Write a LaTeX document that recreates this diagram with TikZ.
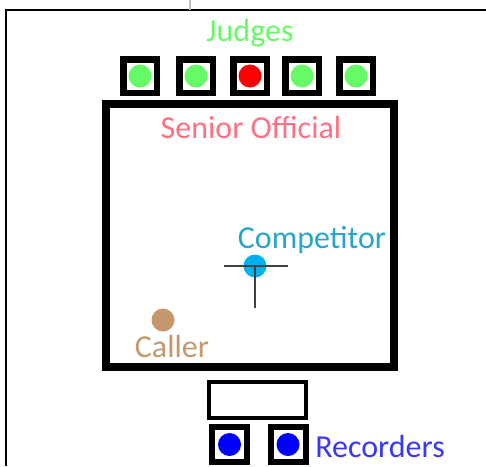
\documentclass[tikz,border=0pt]{standalone}
\usepackage{fontspec}
\setmainfont{Carlito}
\usetikzlibrary{positioning}

\definecolor{judgegreen}{RGB}{102,250,102}
\definecolor{judgered}{RGB}{255,0,0}
\definecolor{officialpink}{RGB}{255,112,130}
\definecolor{competitorblue}{RGB}{40,165,205}
\definecolor{competitordot}{RGB}{0,176,240}
\definecolor{callertan}{RGB}{196,152,108}
\definecolor{recorderblue}{RGB}{55,55,255}

\begin{document}
\begin{tikzpicture}[
        x=1pt, y=-1pt,
        seat/.style={rectangle, draw=black, fill=white, line width=6.5pt,
                     minimum size=33.5pt, inner sep=0pt},
        dot/.style={circle, minimum size=23pt, inner sep=0pt},
        tag/.style={font=\fontsize{32}{38}\selectfont, inner sep=0pt},
        cross/.style={draw=black!75, line width=1.5pt}
    ]
        \useasboundingbox (0,0) rectangle (486,466);
        % page frame
        \draw[line width=2pt] (6,466) -- (6,10) -- (486,10);
        \draw[black!25, line width=1.5pt] (190,0) -- (190,10);

        % competition area
        \node[draw, line width=8pt, minimum width=288pt, minimum height=263pt, inner sep=0pt] (area) at (250,235.5) {};
        \node[tag, text=officialpink] (official) at (251,128) {Senior Official};

        % judges
        \foreach \x/\c/\n in {140/judgegreen/1, 196/judgegreen/2, 250/judgered/3, 302/judgegreen/4, 356/judgegreen/5} {
            \node[seat] (judge\n) at (\x,76) {};
            \node[dot, fill=\c] (jdot\n) at (judge\n) {};
        }
        \node[tag, text=judgegreen] (judges) at (250,33) {Judges};

        % competitor
        \node[dot, fill=competitordot] (competitor) at (255,266) {};
        \draw[cross] ([xshift=-31pt]competitor.center) -- ([xshift=33pt]competitor.center);
        \draw[cross] (competitor.center) -- ([yshift=-42pt]competitor.center);
        \node[tag, text=competitorblue] (comptext) at (312,240) {Competitor};

        % caller
        \node[dot, fill=callertan] (caller) at (163,320) {};
        \node[tag, text=callertan] (callertext) at (172,346) {Caller};

        % recorders
        \node[draw, line width=4pt, minimum width=97pt, minimum height=36pt, inner sep=0pt] (desk) at (257.5,400) {};
        \node[seat, line width=6pt, minimum size=35pt] (rec1) at (229.5,444.5) {};
        \node[seat, line width=6pt, minimum size=35pt] (rec2) at (288,444.5) {};
        \node[dot, fill=blue] (rdot1) at (rec1) {};
        \node[dot, fill=blue] (rdot2) at (rec2) {};
        \node[tag, text=recorderblue] (recorders) at (380,446) {Recorders};
    \end{tikzpicture}
\end{document}
